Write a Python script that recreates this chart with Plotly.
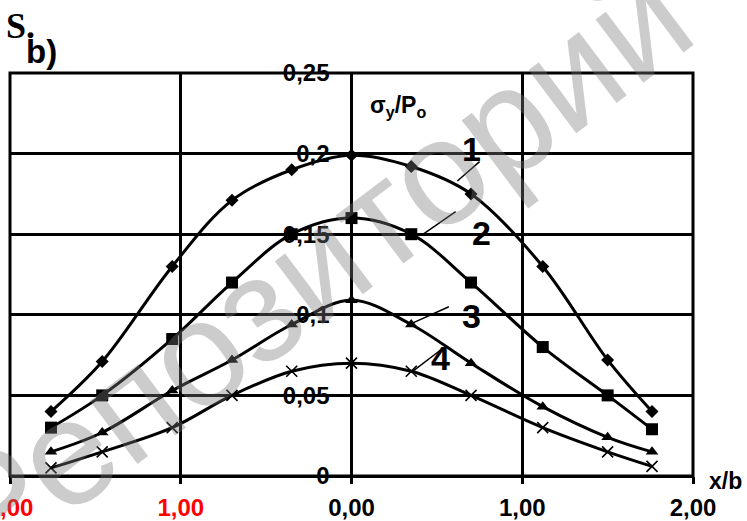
import plotly.graph_objects as go

# ---- data ----
x_vals = [-1.76, -1.46, -1.05, -0.70, -0.35, 0.0, 0.35, 0.70, 1.12, 1.50, 1.76]
s1 = [0.040, 0.071, 0.130, 0.171, 0.190, 0.199, 0.192, 0.175, 0.130, 0.072, 0.040]
s2 = [0.030, 0.050, 0.085, 0.120, 0.150, 0.160, 0.150, 0.120, 0.080, 0.050, 0.029]
s3 = [0.015, 0.027, 0.053, 0.072, 0.094, 0.109, 0.094, 0.070, 0.043, 0.024, 0.015]
s4 = [0.005, 0.015, 0.030, 0.050, 0.065, 0.070, 0.065, 0.050, 0.030, 0.015, 0.006]

x_tickvals = [-2, -1, 0, 1, 2]
x_ticktext = ['<span style="color:#ff0000">2,00</span>',
              '<span style="color:#ff0000">1,00</span>',
              '0,00', '1,00', '2,00']
y_tickvals = [0, 0.05, 0.10, 0.15, 0.20, 0.25]
y_ticktext = ['0', '0,05', '0,1', '0,15', '0,2', '0,25']

FONT = "Liberation Sans, Arial, sans-serif"

fig = go.Figure()

series = [
    (s1, dict(symbol="diamond", size=10, color="black")),
    (s2, dict(symbol="square", size=12, color="black")),
    (s3, dict(symbol="triangle-up", size=11, color="black")),
    (s4, dict(symbol="x-thin", size=11, color="black", line=dict(width=1.6, color="black"))),
]
for ys, mk in series:
    fig.add_trace(go.Scatter(
        x=x_vals, y=ys, mode="lines+markers",
        line=dict(color="black", width=3, shape="spline", smoothing=1.0),
        marker=mk, showlegend=False, hoverinfo="skip"))

# leader lines for curve labels (data coords)
leaders = [
    ((0.62, 0.183), (0.75, 0.195)),
    ((0.42, 0.150), (0.61, 0.164)),
    ((0.36, 0.095), (0.57, 0.105)),
    ((0.36, 0.065), (0.52, 0.078)),
]
shapes = []
for (a, b) in leaders:
    shapes.append(dict(type="line", xref="x", yref="y", x0=a[0], y0=a[1], x1=b[0], y1=b[1],
                       line=dict(color="black", width=1.5)))
shapes.append(dict(type="rect", xref="paper", yref="paper", x0=0, y0=0, x1=1, y1=1,
                   line=dict(color="black", width=3), layer="above"))

annotations = [
    dict(text="Репозиторий", xref="paper", yref="paper", x=0.445, y=0.52,
         showarrow=False, textangle=-37,
         font=dict(family=FONT, size=150, color="rgba(120,120,120,0.38)")),
    dict(text="<b>1</b>", xref="x", yref="y", x=0.70, y=0.203, showarrow=False,
         font=dict(family=FONT, size=34, color="black")),
    dict(text="<b>2</b>", xref="x", yref="y", x=0.76, y=0.151, showarrow=False,
         font=dict(family=FONT, size=34, color="black")),
    dict(text="<b>3</b>", xref="x", yref="y", x=0.70, y=0.099, showarrow=False,
         font=dict(family=FONT, size=34, color="black")),
    dict(text="<b>4</b>", xref="x", yref="y", x=0.52, y=0.073, showarrow=False,
         font=dict(family=FONT, size=34, color="black")),
    dict(text="<b>σ<sub>y</sub>/P<sub>o</sub></b>", xref="x", yref="y", x=0.27, y=0.229,
         showarrow=False, font=dict(family=FONT, size=23, color="black")),
    dict(text="<b>x/b</b>", xref="paper", yref="paper", x=1.047, y=-0.012,
         xanchor="center", yanchor="middle", showarrow=False,
         font=dict(family=FONT, size=23, color="black")),
    dict(text="<b>S.</b>", xref="paper", yref="paper", x=-0.009, y=1.117, xanchor="left",
         yanchor="middle", showarrow=False,
         font=dict(family="Liberation Serif, Times New Roman, serif", size=36, color="black")),
    dict(text="<b>b)</b>", xref="paper", yref="paper", x=0.021, y=1.053, xanchor="left",
         yanchor="middle", showarrow=False,
         font=dict(family=FONT, size=33, color="black")),
]

fig.update_layout(
    width=747, height=521,
    margin=dict(l=10, r=54, t=73, b=45, autoexpand=False),
    paper_bgcolor="white", plot_bgcolor="white",
    shapes=shapes, annotations=annotations,
    xaxis=dict(range=[-2, 2], tickvals=x_tickvals, ticktext=x_ticktext,
               automargin=False, ticklabeloverflow="allow",
               showgrid=True, gridcolor="black", gridwidth=3,
               zeroline=True, zerolinecolor="black", zerolinewidth=3,
               ticks="outside", ticklen=7, tickwidth=3, tickcolor="black",
               ticklabelstandoff=3,
               tickfont=dict(family=FONT, size=24, color="black", weight="bold"),
               showline=False),
    yaxis=dict(range=[0, 0.25], tickvals=y_tickvals, ticktext=y_ticktext,
               anchor="free", position=0.5, automargin=False,
               showgrid=True, gridcolor="black", gridwidth=3,
               zeroline=True, zerolinecolor="black", zerolinewidth=3,
               ticks="", ticklabelstandoff=22,
               tickfont=dict(family=FONT, size=24, color="black", weight="bold"),
               showline=False),
)

fig.write_html("out.html", config={"displayModeBar": False},
               post_script="document.body.style.margin='0';document.body.style.padding='0';")
